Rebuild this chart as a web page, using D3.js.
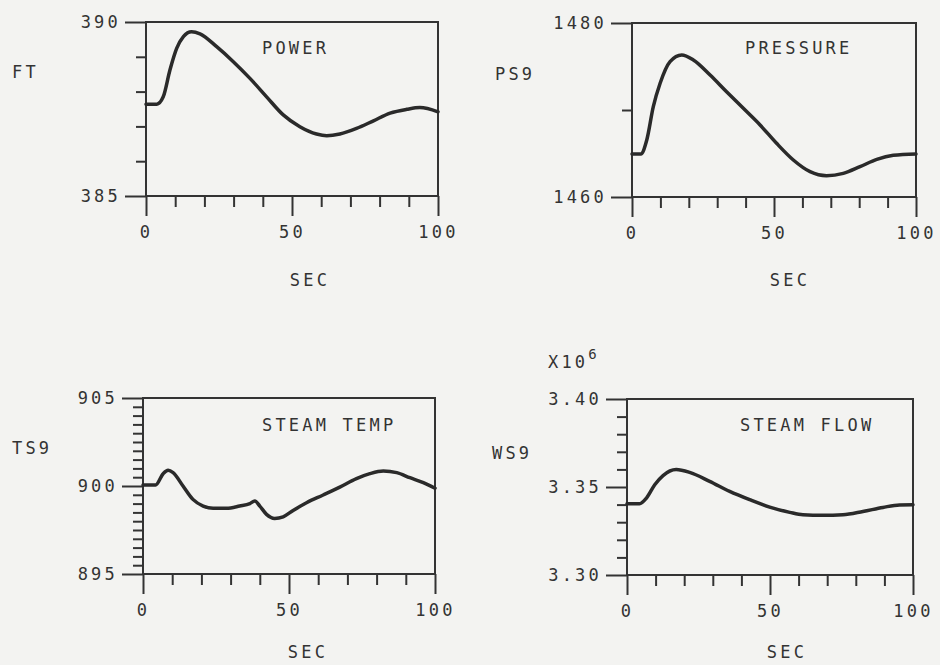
<!DOCTYPE html>
<html>
<head>
<meta charset="utf-8">
<script src="https://cdn.jsdelivr.net/npm/d3@7/dist/d3.min.js"></script>
<style>
  html, body { margin: 0; padding: 0; background: #f3f3f1; }
  svg { display: block; }
  text { font-family: "DejaVu Sans Mono", "Liberation Mono", monospace; fill: #3a3a3a; }
</style>
</head>
<body>
<svg id="chart" width="940" height="665"></svg>
<script>
// Time axis shared by all four transients (seconds)
const xTickMinor = [10, 20, 30, 40, 60, 70, 80, 90];
const xTickMajor = [0, 50, 100];
const xTickLabels = ["0", "50", "100"];

// Reactor power, FT
const powerT = [0, 3.7, 5.9, 8.2, 10.5, 12.8, 15.6, 18.5, 24.2, 29.9, 35.6, 41.3, 47, 52.7, 58.4, 61.9, 66.4, 72.1, 77.9, 83.6, 89.3, 93.8, 100];
const powerV = [387.64, 387.64, 387.85, 388.62, 389.24, 389.58, 389.72, 389.66, 389.29, 388.86, 388.38, 387.85, 387.33, 386.99, 386.78, 386.73, 386.78, 386.94, 387.16, 387.38, 387.49, 387.54, 387.42];
const powerMinor = [386, 387, 388, 389];
const powerMajor = [385, 390];
const powerLabels = ["385", "390"];

// Steam pressure, PS9
const pressT = [0, 3.1, 5.2, 7.5, 9.9, 13.4, 17.5, 21.6, 27.5, 33.3, 39.2, 45.1, 50.9, 56.8, 62.7, 68.5, 74.4, 80.3, 86.2, 92, 100];
const pressV = [1464.94, 1464.94, 1466.55, 1470.38, 1473.07, 1475.56, 1476.32, 1475.75, 1474.02, 1472.1, 1470.19, 1468.28, 1466.17, 1464.25, 1462.91, 1462.45, 1462.72, 1463.49, 1464.33, 1464.79, 1464.94];
const pressMinor = [1470];
const pressMajor = [1460, 1480];
const pressLabels = ["1460", "1480"];

// Steam temperature, TS9
const tempT = [0, 4.3, 6.9, 8.6, 10.3, 13.7, 17.1, 20.6, 24, 28.6, 33.1, 36.6, 38.3, 40, 42.3, 45.1, 48, 51.4, 56, 61.7, 67.4, 73.1, 77.7, 82.3, 86.9, 91.4, 96, 100];
const tempV = [900.06, 900.06, 900.7, 900.89, 900.76, 900.0, 899.24, 898.86, 898.73, 898.73, 898.86, 899.0, 899.15, 898.86, 898.39, 898.16, 898.25, 898.61, 899.05, 899.49, 899.94, 900.42, 900.7, 900.85, 900.76, 900.47, 900.19, 899.87];
const tempMinor = [895.5, 896, 896.5, 897, 897.5, 898, 898.5, 899, 899.5, 900.5, 901, 901.5, 902, 902.5, 903, 903.5, 904, 904.5];
const tempMajor = [895, 900, 905];
const tempLabels = ["895", "900", "905"];

// Steam flow, WS9 (x10^6)
const flowT = [0, 4.4, 6.8, 9.7, 12.6, 17.2, 21.9, 28.9, 35.9, 42.9, 49.9, 56.9, 61.5, 68.5, 75.5, 82.5, 89.5, 95.3, 100];
const flowV = [3.3405, 3.3405, 3.3437, 3.3513, 3.3565, 3.3599, 3.3583, 3.3532, 3.3475, 3.3428, 3.3386, 3.3356, 3.3342, 3.3339, 3.3342, 3.3361, 3.3384, 3.3398, 3.3399];
const flowMinor = [3.31, 3.32, 3.33, 3.34, 3.36, 3.37, 3.38, 3.39];
const flowMajor = [3.30, 3.35, 3.40];
const flowLabels = ["3.30", "3.35", "3.40"];

const ink = "#333";

const panels = [
  { left: 146, right: 438, top: 22, bottom: 196, yDom: [385, 390],
    t: powerT, v: powerV, minor: powerMinor, major: powerMajor, labels: powerLabels,
    yName: "FT", yNameX: 12, yNameY: 72, title: "POWER", titleX: 262, titleY: 48, secX: 310, secY: 280 },
  { left: 632, right: 916, top: 23, bottom: 197, yDom: [1460, 1480],
    t: pressT, v: pressV, minor: pressMinor, major: pressMajor, labels: pressLabels,
    yName: "PS9", yNameX: 495, yNameY: 74, title: "PRESSURE", titleX: 745, titleY: 48, secX: 790, secY: 280 },
  { left: 143, right: 435, top: 398, bottom: 574, yDom: [895, 905],
    t: tempT, v: tempV, minor: tempMinor, major: tempMajor, labels: tempLabels,
    yName: "TS9", yNameX: 12, yNameY: 448, title: "STEAM TEMP", titleX: 262, titleY: 425, secX: 308, secY: 652 },
  { left: 627, right: 913, top: 399, bottom: 575, yDom: [3.30, 3.40],
    t: flowT, v: flowV, minor: flowMinor, major: flowMajor, labels: flowLabels,
    yName: "WS9", yNameX: 492, yNameY: 453, title: "STEAM FLOW", titleX: 740, titleY: 425, secX: 787, secY: 652,
    scaleNote: true }
];

const svg = d3.select("#chart");
const fontSize = 17;
const spacing = 3.2;

panels.forEach(p => {
  const x = d3.scaleLinear().domain([0, 100]).range([p.left, p.right]);
  const y = d3.scaleLinear().domain(p.yDom).range([p.bottom, p.top]);
  const g = svg.append("g");

  // minor y ticks
  g.append("g").attr("transform", `translate(${p.left},0)`)
    .call(d3.axisLeft(y).tickValues(p.minor).tickSize(10).tickFormat(""))
    .call(a => a.select(".domain").remove());
  // major y ticks with labels
  g.append("g").attr("transform", `translate(${p.left},0)`)
    .call(d3.axisLeft(y).tickValues(p.major).tickSize(21).tickPadding(4)
      .tickFormat((d, i) => p.labels[i]))
    .call(a => a.select(".domain").remove());
  // minor x ticks
  g.append("g").attr("transform", `translate(0,${p.bottom})`)
    .call(d3.axisBottom(x).tickValues(xTickMinor).tickSize(11).tickFormat(""))
    .call(a => a.select(".domain").remove());
  // major x ticks with labels
  g.append("g").attr("transform", `translate(0,${p.bottom})`)
    .call(d3.axisBottom(x).tickValues(xTickMajor).tickSize(20).tickPadding(10)
      .tickFormat((d, i) => xTickLabels[i]))
    .call(a => a.select(".domain").remove());

  g.selectAll(".tick line").attr("stroke", ink).attr("stroke-width", 2);
  g.selectAll(".tick text").attr("font-size", fontSize)
    .attr("letter-spacing", spacing).style("fill", ink);

  // frame
  g.append("rect")
    .attr("x", p.left).attr("y", p.top)
    .attr("width", p.right - p.left).attr("height", p.bottom - p.top)
    .attr("fill", "none").attr("stroke", ink).attr("stroke-width", 2);

  // transient curve
  const data = p.t.map((t, i) => [t, p.v[i]]);
  g.append("path").datum(data)
    .attr("fill", "none").attr("stroke", "#2a2a2a").attr("stroke-width", 3.5)
    .attr("stroke-linejoin", "round").attr("stroke-linecap", "round")
    .attr("d", d3.line().x(d => x(d[0])).y(d => y(d[1])).curve(d3.curveMonotoneX));

  const label = (txt, tx, ty, anchor) => g.append("text")
    .attr("x", tx).attr("y", ty).attr("dy", "0.35em")
    .attr("text-anchor", anchor || "start")
    .attr("font-size", fontSize).attr("letter-spacing", spacing)
    .style("fill", ink).text(txt);

  label(p.yName, p.yNameX, p.yNameY);
  label(p.title, p.titleX, p.titleY);
  label("SEC", p.secX, p.secY, "middle");

  if (p.scaleNote) {
    const t = g.append("text").attr("x", 548).attr("y", 368)
      .attr("font-size", fontSize).attr("letter-spacing", spacing).style("fill", ink);
    t.append("tspan").text("X10");
    t.append("tspan").attr("dy", -9).attr("font-size", 14).text("6");
  }
});
</script>
</body>
</html>
